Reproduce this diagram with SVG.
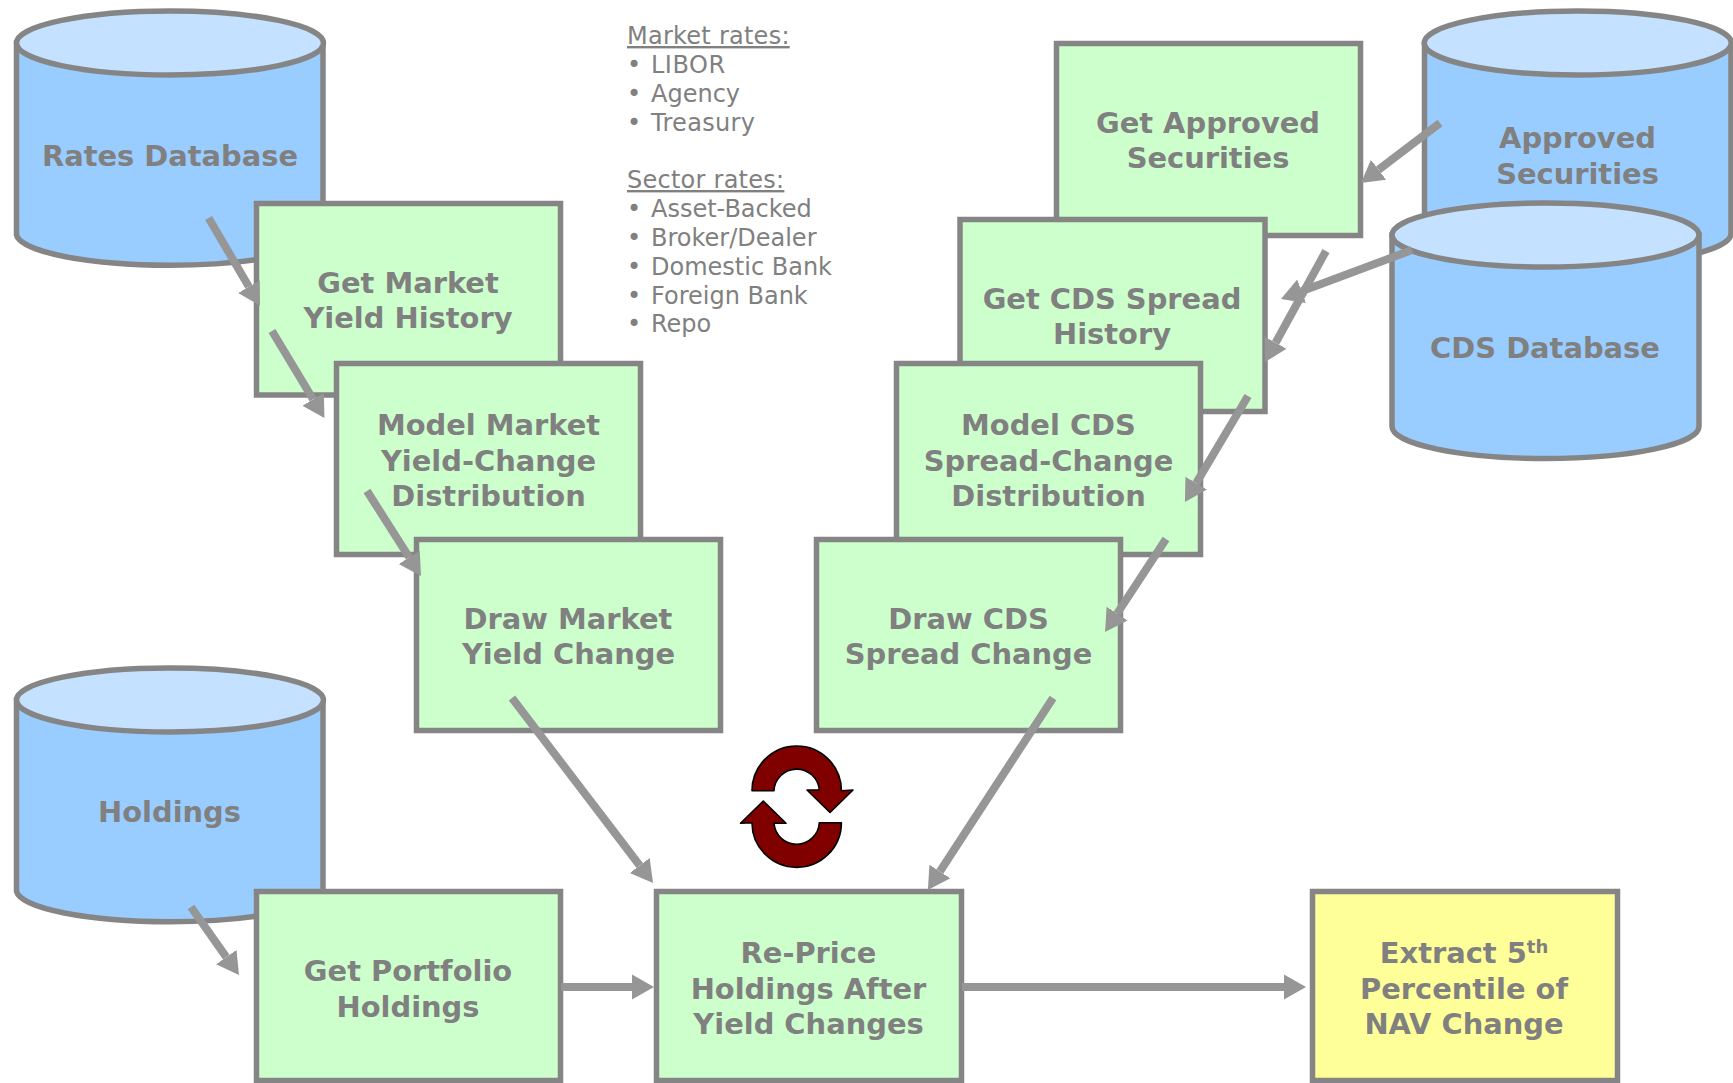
<svg xmlns="http://www.w3.org/2000/svg" width="1733" height="1083" viewBox="0 0 1733 1083">
<style>
.body{fill:#99ccff;stroke:#858585;stroke-width:5.5}
.top{fill:#c4e1ff;stroke:#858585;stroke-width:5.5}
.box{fill:#ccffcc;stroke:#858585;stroke-width:5.5}
.res{fill:#ffff99;stroke:#858585;stroke-width:5.5}
.lbl{font-family:"DejaVu Sans","Liberation Sans",sans-serif;font-weight:700;font-size:28.9px;fill:#808080;text-anchor:middle}
.note{font-family:"DejaVu Sans","Liberation Sans",sans-serif;font-size:24px;fill:#808080}
.head{letter-spacing:.25px;text-decoration:underline}
.conn{stroke:#969696;stroke-width:8;fill:none;marker-end:url(#head)}
.cyc{fill:#800000;stroke:#000;stroke-width:1.6;stroke-linejoin:round}
</style>
<defs>
<marker id="head" markerUnits="userSpaceOnUse" markerWidth="24" markerHeight="26" refX="0" refY="13" orient="auto"><path d="M0,0.5L22,13L0,25.5Z" fill="#969696"/></marker>
</defs>
<rect width="1733" height="1083" fill="#fff"/>
<g id="rates-db"><path class="body" d="M16.5,43V235A153.5,32 0 0 0 323,235V43Z"/><ellipse class="top" cx="170" cy="43" rx="153.5" ry="32"/><text class="lbl" x="170" y="165.5">Rates Database</text></g>
<g id="holdings-db"><path class="body" d="M16.5,700V891.5A153.5,32 0 0 0 323,891.5V700Z"/><ellipse class="top" cx="170" cy="700" rx="153.5" ry="32"/><text class="lbl" x="169.5" y="822">Holdings</text></g>
<g id="approved-db"><path class="body" d="M1424.5,43V235A153.5,32 0 0 0 1731,235V43Z"/><ellipse class="top" cx="1577.75" cy="43" rx="153.5" ry="32"/><text class="lbl" x="1577.5" y="148">Approved</text><text class="lbl" x="1577.5" y="183.5">Securities</text></g>
<g id="get-approved"><rect class="box" x="1056.5" y="43.5" width="304" height="192"/><text class="lbl" x="1208" y="133">Get Approved</text><text class="lbl" x="1208" y="168">Securities</text></g>
<g id="cds-db"><path class="body" d="M1392,235V426.5A153.5,32 0 0 0 1699,426.5V235Z"/><ellipse class="top" cx="1545.5" cy="235" rx="153.5" ry="32"/><text class="lbl" x="1545" y="358">CDS Database</text></g>
<g id="get-market"><rect class="box" x="256.5" y="203.5" width="304" height="191.5"/><text class="lbl" x="408" y="293">Get Market</text><text class="lbl" x="408" y="328">Yield History</text></g>
<g id="model-market"><rect class="box" x="336.5" y="363.5" width="304" height="191"/><text class="lbl" x="488.5" y="434.5">Model Market</text><text class="lbl" x="488.5" y="471">Yield-Change</text><text class="lbl" x="488.5" y="506">Distribution</text></g>
<g id="draw-market"><rect class="box" x="416.5" y="539.5" width="304" height="191"/><text class="lbl" x="568" y="629">Draw Market</text><text class="lbl" x="568.5" y="664">Yield Change</text></g>
<g id="get-cds"><rect class="box" x="960" y="219.5" width="305" height="192"/><text class="lbl" x="1112" y="308.5">Get CDS Spread</text><text class="lbl" x="1112" y="344">History</text></g>
<g id="model-cds"><rect class="box" x="896.5" y="363.5" width="304" height="191"/><text class="lbl" x="1048.5" y="434.5">Model CDS</text><text class="lbl" x="1048.5" y="471">Spread-Change</text><text class="lbl" x="1048.5" y="506">Distribution</text></g>
<g id="draw-cds"><rect class="box" x="816.5" y="539.5" width="304" height="191"/><text class="lbl" x="968.5" y="629">Draw CDS</text><text class="lbl" x="968.5" y="664">Spread Change</text></g>
<g id="get-portfolio"><rect class="box" x="256.5" y="891.5" width="304" height="189"/><text class="lbl" x="408" y="981">Get Portfolio</text><text class="lbl" x="408" y="1016.5">Holdings</text></g>
<g id="reprice"><rect class="box" x="656.5" y="891.5" width="305" height="189"/><text class="lbl" x="808.5" y="963">Re-Price</text><text class="lbl" x="808.5" y="999">Holdings After</text><text class="lbl" x="808.5" y="1034">Yield Changes</text></g>
<g id="extract"><rect class="res" x="1312.5" y="891.5" width="305" height="189"/><text class="lbl" x="1464" y="963">Extract 5<tspan font-size="18" dy="-10">th</tspan></text><text class="lbl" x="1464" y="999">Percentile of</text><text class="lbl" x="1464" y="1034">NAV Change</text></g>
<g id="notes" class="note">
<text class="head" x="627" y="44">Market rates:</text>
<text x="627" y="73">•</text><text x="651" y="73" letter-spacing=".5">LIBOR</text>
<text x="627" y="102">•</text><text x="651" y="102">Agency</text>
<text x="627" y="131">•</text><text x="651" y="131" letter-spacing=".3">Treasury</text>
<text class="head" x="627" y="188">Sector rates:</text>
<text x="627" y="217">•</text><text x="651" y="217">Asset-Backed</text>
<text x="627" y="246">•</text><text x="651" y="246">Broker/Dealer</text>
<text x="627" y="275">•</text><text x="651" y="275">Domestic Bank</text>
<text x="627" y="304">•</text><text x="651" y="304">Foreign Bank</text>
<text x="627" y="332">•</text><text x="651" y="332">Repo</text>
</g>
<g id="cycle">
<path class="cyc" d="M752,790.7A44.7,44.7 0 0 1 841.4,790.7L853,790L830,812.5L807,790L819.3,790A22.7,22.7 0 0 0 774,790.7Z"/>
<path class="cyc" d="M841.4,822.7A44.7,44.7 0 0 1 752,822.7L740.5,823.3L763.3,801L786,823.3L774,823.3A22.7,22.7 0 0 0 819.3,822.7Z"/>
</g>
<g id="connectors">
<line class="conn" x1="208.6" y1="218" x2="248.9" y2="286.7"/>
<line class="conn" x1="272" y1="331" x2="313.1" y2="399.2"/>
<line class="conn" x1="367" y1="491" x2="409.2" y2="557.4"/>
<line class="conn" x1="512" y1="698" x2="639.7" y2="865.5"/>
<line class="conn" x1="1053" y1="698" x2="939.9" y2="871.5"/>
<line class="conn" x1="1440" y1="123" x2="1378.5" y2="169.7"/>
<line class="conn" x1="1412" y1="250" x2="1301.6" y2="291.3"/>
<line class="conn" x1="1326" y1="251" x2="1275.6" y2="342.7"/>
<line class="conn" x1="1248" y1="396" x2="1196.2" y2="483.1"/>
<line class="conn" x1="1166" y1="539" x2="1117.1" y2="613.6"/>
<line class="conn" x1="191" y1="907" x2="226.3" y2="957.1"/>
<line class="conn" x1="561" y1="987" x2="632" y2="987"/>
<line class="conn" x1="962" y1="987" x2="1284" y2="987"/>
</g>
</svg>
